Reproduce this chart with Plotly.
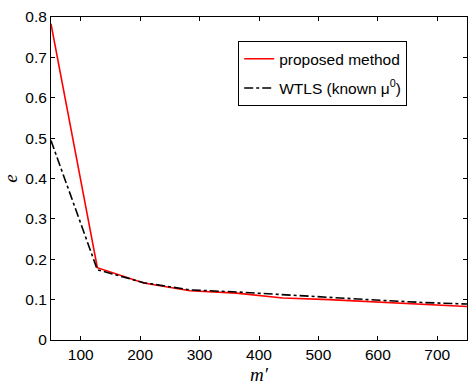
import plotly.graph_objects as go

m_vals = [50, 128, 206, 284, 362, 440, 518, 596, 674, 750]
proposed = [0.783, 0.179, 0.141, 0.122, 0.116, 0.104, 0.100, 0.094, 0.087, 0.083]
wtls = [0.494, 0.174, 0.142, 0.124, 0.119, 0.112, 0.106, 0.099, 0.093, 0.089]
x_ticks = [100, 200, 300, 400, 500, 600, 700]
y_ticks = [0, 0.1, 0.2, 0.3, 0.4, 0.5, 0.6, 0.7, 0.8]

fig = go.Figure()
fig.add_trace(go.Scatter(x=m_vals, y=proposed, mode="lines", name="proposed method",
                         legendgroup="a",
                         line=dict(color="#ff0000", width=1.6)))
fig.add_trace(go.Scatter(x=m_vals, y=wtls, mode="lines", name="WTLS (known μ<sup>0</sup>)",
                         legendgroup="b",
                         line=dict(color="black", width=1.6, dash="dashdot")))

axis_common = dict(showgrid=False, zeroline=False, showline=True, linecolor="black", linewidth=1,
                   mirror="ticks", ticks="inside", ticklen=4, tickcolor="black",
                   tickfont=dict(family="Liberation Sans, Arial", size=15.5, color="black"))
fig.update_xaxes(range=[50, 750], tickvals=x_ticks, ticktext=[str(v) for v in x_ticks],
                 title=dict(text="<i>m′</i>", font=dict(family="Liberation Serif, Times New Roman", size=19, color="black"), standoff=6),
                 **axis_common)
fig.update_yaxes(range=[0, 0.8], tickvals=y_ticks, ticktext=["0"] + [f"{v:.1f}" for v in y_ticks[1:]],
                 title=dict(text="<i>e</i>", font=dict(family="Liberation Serif, Times New Roman", size=19, color="black"), standoff=4),
                 **axis_common)
fig.update_layout(
    width=476, height=390,
    margin=dict(l=48, r=8, t=13, b=45),
    plot_bgcolor="white", paper_bgcolor="white",
    showlegend=True,
    legend=dict(x=0.45, y=0.925, xanchor="left", yanchor="top",
                bgcolor="white", bordercolor="black", borderwidth=1,
                font=dict(family="Liberation Sans, Arial", size=15.5, color="black"),
                tracegroupgap=6, itemwidth=30),
)
fig.write_html("out.html")
